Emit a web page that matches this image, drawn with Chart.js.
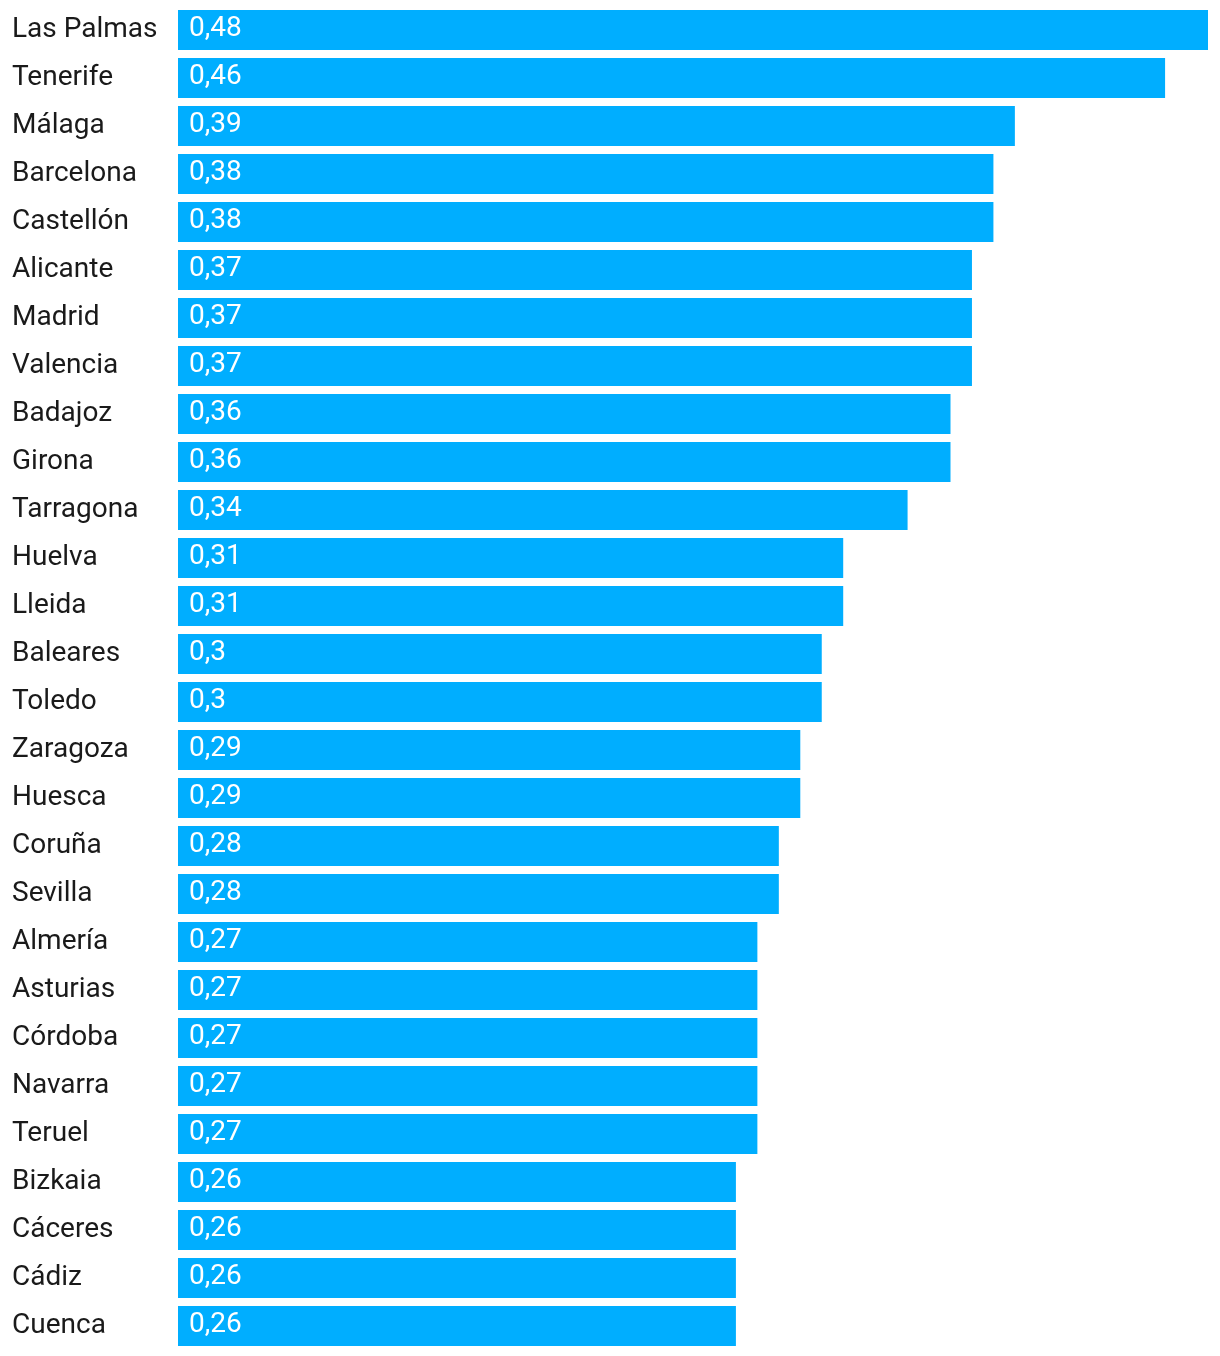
<!DOCTYPE html>
<html>
<head>
<meta charset="utf-8">
<script src="https://cdn.jsdelivr.net/npm/chart.js@4.4.1/dist/chart.umd.min.js"></script>
<style>
html,body{margin:0;padding:0;background:#fff;}
#wrap{width:1220px;height:1356px;}
</style>
</head>
<body>
<div id="wrap"><canvas id="c" width="1220" height="1356"></canvas></div>
<script>
const categories = ["Las Palmas","Tenerife","Málaga","Barcelona","Castellón","Alicante","Madrid","Valencia","Badajoz","Girona","Tarragona","Huelva","Lleida","Baleares","Toledo","Zaragoza","Huesca","Coruña","Sevilla","Almería","Asturias","Córdoba","Navarra","Teruel","Bizkaia","Cáceres","Cádiz","Cuenca"];
const values = [0.48,0.46,0.39,0.38,0.38,0.37,0.37,0.37,0.36,0.36,0.34,0.31,0.31,0.3,0.3,0.29,0.29,0.28,0.28,0.27,0.27,0.27,0.27,0.27,0.26,0.26,0.26,0.26];
const barColor = "#00AEFF";
const FONT = "Roboto";
const FONT_SIZE = 28;

const valueLabels = {
  id: 'valueLabels',
  afterDatasetsDraw(chart) {
    const ctx = chart.ctx;
    const meta = chart.getDatasetMeta(0);
    ctx.save();
    ctx.fillStyle = '#ffffff';
    ctx.font = FONT_SIZE + 'px ' + FONT;
    ctx.textAlign = 'left';
    ctx.textBaseline = 'middle';
    meta.data.forEach((bar, i) => {
      const txt = String(values[i]).replace('.', ',');
      ctx.fillText(txt, bar.base + 11, bar.y - 1);
    });
    ctx.restore();
  }
};

new Chart(document.getElementById('c'), {
  type: 'bar',
  data: {
    labels: categories,
    datasets: [{
      data: values,
      backgroundColor: barColor,
      borderWidth: 0,
      barPercentage: 40/48,
      categoryPercentage: 1
    }]
  },
  options: {
    indexAxis: 'y',
    responsive: false,
    animation: false,
    devicePixelRatio: 1,
    layout: { padding: { left: 12, right: 12, top: 6, bottom: 6 } },
    plugins: { legend: { display: false }, tooltip: { enabled: false } },
    scales: {
      x: { display: false, min: 0, max: 0.48 },
      y: {
        grid: { display: false, drawTicks: false },
        border: { display: false },
        afterFit(scale) { scale.width = 166; scale.paddingTop = 0; scale.paddingBottom = 0; },
        ticks: {
          crossAlign: 'far',
          padding: 0,
          color: '#1a1a1a',
          font: { family: FONT, size: FONT_SIZE }
        }
      }
    }
  },
  plugins: [valueLabels]
});
</script>
</body>
</html>
